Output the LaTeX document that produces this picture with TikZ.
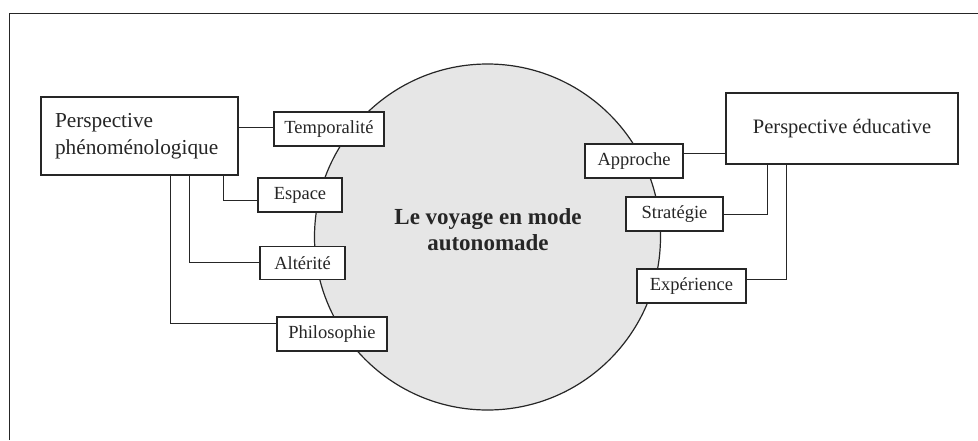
\documentclass[tikz,border=0pt]{standalone}
\usepackage{fontspec}
\setmainfont{Liberation Serif}
\definecolor{ink}{HTML}{262626}
\definecolor{disc}{HTML}{E6E6E6}
\begin{document}
\begin{tikzpicture}[x=1pt,y=-1pt,
  box/.style={draw=ink,line width=1.2pt,fill=white,rectangle,inner sep=0pt,text=ink},
  lab/.style={box,minimum height=34pt,font=\fontsize{18.5}{20}\selectfont},
  wire/.style={draw=ink,line width=1pt},
]
\useasboundingbox (0,0) rectangle (978,440);
% frame
\draw[ink,line width=1pt] (9,440) -- (9,13) -- (978,13);
% central disc
\node[circle,draw=ink,fill=disc,line width=1.2pt,minimum size=346pt,inner sep=0pt] (disc) at (487.5,237) {};
\node[font=\bfseries\fontsize{23}{26}\selectfont,align=center,text=ink] (title) at (488,230) {Le voyage en mode\\autonomade};
% left main box
\node[box,minimum width=197pt,minimum height=78pt,text width=169pt,align=left,
      font=\fontsize{21.3}{27}\selectfont] (pp) at (139.5,136) {Perspective\\phénoménologique};
\node[lab,minimum width=110pt] (temp) at (329,129) {Temporalité};
\node[lab,minimum width=84pt] (esp) at (300,195) {Espace};
\node[lab,minimum width=85pt,minimum height=33pt] (alt) at (302.5,263) {Altérité};
\node[lab,minimum width=110pt] (phil) at (332,334) {Philosophie};
% right main box
\node[box,minimum width=232pt,minimum height=71pt,
      font=\fontsize{20.5}{24}\selectfont] (pe) at (842,128.5) {Perspective éducative};
\node[lab,minimum width=98pt] (appr) at (634,161) {Approche};
\node[lab,minimum width=97pt] (strat) at (674.5,214) {Stratégie};
\node[lab,minimum width=109pt] (exp) at (691.5,286) {Expérience};
% left connectors
\draw[wire] ([yshift=2pt]temp.west) -- ([yshift=2pt]temp.west -| pp.east);
\draw[wire] ([xshift=83.5pt]pp.south) |- ([yshift=-5pt]esp.west);
\draw[wire] ([xshift=49.5pt]pp.south) |- ([yshift=1pt]alt.west);
\draw[wire] ([xshift=30.5pt]pp.south) |- ([yshift=11pt]phil.west);
% right connectors
\draw[wire] ([yshift=8pt]appr.east) -- ([yshift=8pt]appr.east -| pe.west);
\draw[wire] ([xshift=-75pt]pe.south) |- (strat.east);
\draw[wire] ([xshift=-56pt]pe.south) |- ([yshift=7pt]exp.east);
\end{tikzpicture}
\end{document}
